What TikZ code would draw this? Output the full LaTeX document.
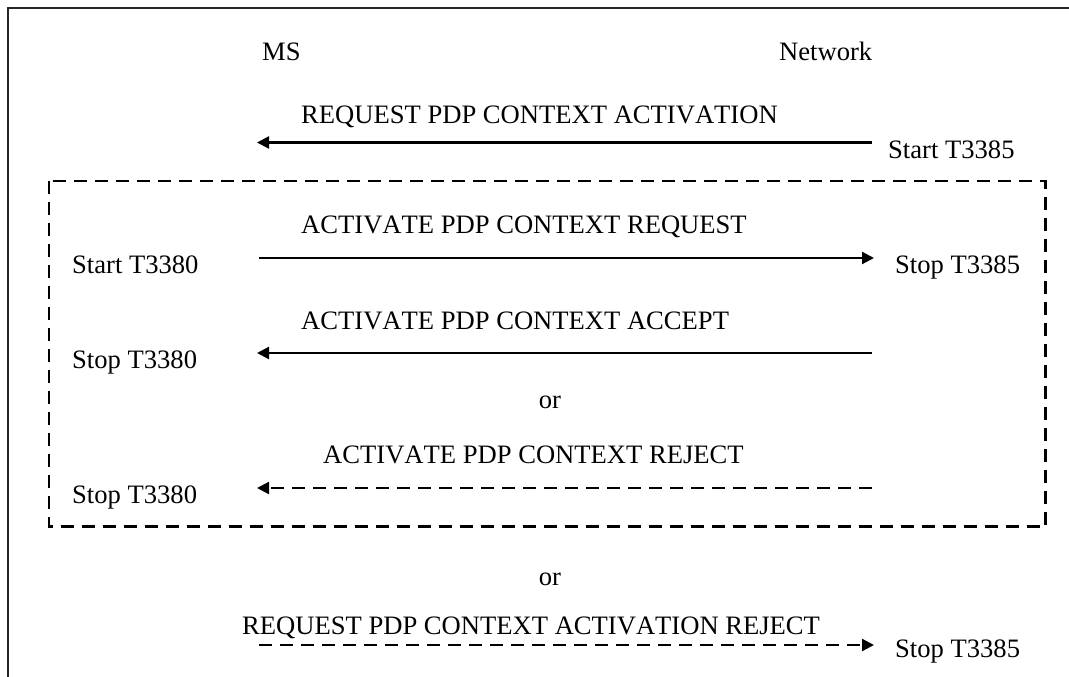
\documentclass[tikz,border=0pt]{standalone}
\usepackage{fontspec}
\setmainfont[Kerning=Off]{Liberation Serif}
\usetikzlibrary{arrows.meta}
\begin{document}
\begin{tikzpicture}[x=1pt,y=-1pt,
  lbl/.style={anchor=base west,inner sep=0pt,font=\fontsize{26.6}{30}\selectfont},
  lblc/.style={anchor=base,inner sep=0pt,font=\fontsize{26.6}{30}\selectfont},
  msg/.style={line width=2.2pt,-{Triangle[length=12pt,width=12pt]}},
  msgd/.style={msg,dash pattern=on 13pt off 8pt},
  frame/.style={line width=1.8pt,draw=black!85},
  grp/.style={line width=2.2pt,dash pattern=on 13pt off 8pt}]
\useasboundingbox (0,0) rectangle (1069,677);
% outer frame (open at right and bottom)
\coordinate (fbl) at (8,680);
\coordinate (ftl) at (8,8);
\coordinate (ftr) at (1072,8);
\draw[frame] (fbl) -- (ftl) -- (ftr);
% dashed group box
\coordinate (gtl) at (49,181);
\coordinate (gbr) at (1045.5,526.5);
\draw[grp] (gtl) rectangle (gbr);
% headers
\node[lbl] (ms) at (262,61) {MS};
\node[lbl] (nw) at (779,61) {Network};
% message 1
\node[lbl] (m1) at (301,123) {REQUEST PDP CONTEXT ACTIVATION};
\node[lbl] (t1) at (888,158) {Start T3385};
\coordinate (a1r) at (872,142.5);
\coordinate (a1l) at (257,142.5);
\draw[msg] (a1r) -- (a1l);
% message 2
\node[lbl] (m2) at (301,233) {ACTIVATE PDP CONTEXT REQUEST};
\node[lbl] (t2l) at (72,273) {Start T3380};
\node[lbl] (t2r) at (895,273) {Stop T3385};
\coordinate (a2l) at (259,258);
\coordinate (a2r) at (874,258);
\draw[msg] (a2l) -- (a2r);
% message 3
\node[lbl] (m3) at (301,329) {ACTIVATE PDP CONTEXT ACCEPT};
\node[lbl] (t3l) at (72,368) {Stop T3380};
\coordinate (a3r) at (872,353);
\coordinate (a3l) at (257,353);
\draw[msg] (a3r) -- (a3l);
\node[lblc] (or1) at (550,408) {or};
% message 4
\node[lbl] (m4) at (323,463) {ACTIVATE PDP CONTEXT REJECT};
\node[lbl] (t4l) at (72,503) {Stop T3380};
\coordinate (a4r) at (872,488);
\coordinate (a4l) at (257,488);
\draw[msgd] (a4r) -- (a4l);
\node[lblc] (or2) at (550,585) {or};
% message 5
\node[lbl] (m5) at (242,634) {REQUEST PDP CONTEXT ACTIVATION REJECT};
\node[lbl] (t5r) at (895,657) {Stop T3385};
\coordinate (a5l) at (259,645);
\coordinate (a5r) at (874,645);
\draw[msgd] (a5l) -- (a5r);
\end{tikzpicture}
\end{document}
